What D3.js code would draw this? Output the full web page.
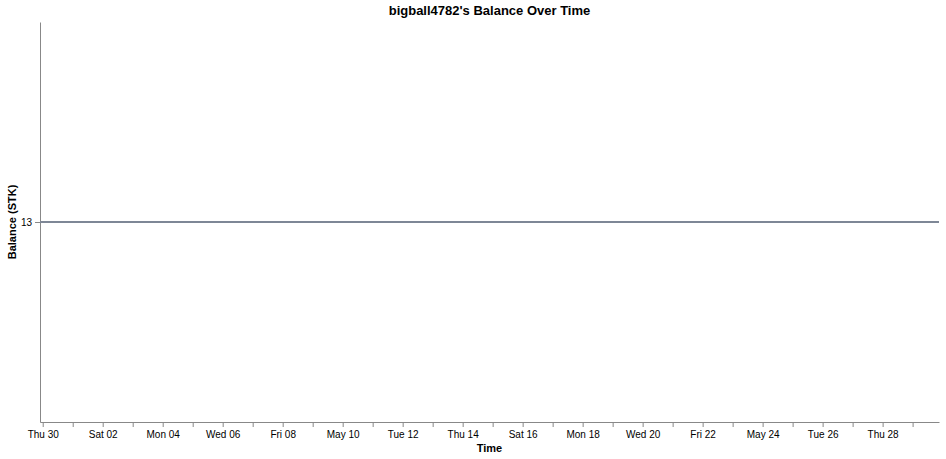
<!DOCTYPE html>
<html>
<head>
<meta charset="utf-8">
<script src="https://cdn.jsdelivr.net/npm/d3@7"></script>
<style>
  body { margin: 0; background: #fff; font-family: "Liberation Sans", Arial, sans-serif; }
  .axis path, .axis line { stroke: #888; }
  .axis text { fill: #000; font-size: 10px; font-family: "Liberation Sans", Arial, sans-serif; }
</style>
</head>
<body>
<script>
//-----------------Data----------------

const times = ["2020-04-29T21:50:00", "2020-05-29T21:07:00"];
const balances = [13, 13];
const yTicks = [13];
const yDomain = [12, 14];

//-----------------Chart----------------

const width = 946;
const height = 459;
const margin = { top: 22, right: 7, bottom: 37, left: 40 };

const parse = d3.timeParse("%Y-%m-%dT%H:%M:%S");
const data = times.map((t, i) => ({ date: parse(t), value: balances[i] }));

const svg = d3.select("body").append("svg").attr("width", width).attr("height", height);

const x = d3
  .scaleTime()
  .domain(d3.extent(data, (d) => d.date))
  .range([margin.left, width - margin.right]);

const y = d3.scaleLinear().domain(yDomain).range([height - margin.bottom, margin.top]);

// day ticks, label every other day starting from the first full day
const dayTicks = d3.timeDay.range(d3.timeDay.ceil(x.domain()[0]), x.domain()[1]);
const fmtTick = (d, i) => {
  if (i % 2 !== 0) return "";
  return d.getDay() === 0 ? d3.timeFormat("%b %d")(d) : d3.timeFormat("%a %d")(d);
};

svg
  .append("g")
  .attr("class", "axis")
  .attr("transform", `translate(0, ${height - margin.bottom})`)
  .call(d3.axisBottom(x).tickValues(dayTicks).tickFormat(fmtTick).tickSize(5).tickSizeOuter(0))
  .call((g) => g.selectAll("text").attr("dy", "0.75em"));

svg
  .append("g")
  .attr("class", "axis")
  .attr("transform", `translate(${margin.left}, 0)`)
  .call(d3.axisLeft(y).tickValues(yTicks).tickFormat(d3.format("d")).tickSize(5).tickSizeOuter(0));

//-----------------Line----------------

const line = d3
  .line()
  .x((d) => x(d.date))
  .y((d) => y(d.value));

svg
  .append("path")
  .datum(data)
  .attr("fill", "none")
  .attr("stroke", "#7e8796")
  .attr("stroke-width", 2)
  .attr("d", line);

//-----------------Titles----------------

svg
  .append("text")
  .text("bigball4782's Balance Over Time")
  .attr("x", (margin.left + width - margin.right) / 2)
  .attr("y", 15)
  .style("text-anchor", "middle")
  .style("font-size", "13px")
  .style("font-weight", "bold");

svg
  .append("text")
  .text("Time")
  .attr("x", (margin.left + width - margin.right) / 2)
  .attr("y", 452)
  .style("text-anchor", "middle")
  .style("font-size", "11px")
  .style("font-weight", "bold");

svg
  .append("text")
  .text("Balance (STK)")
  .attr("transform", `translate(16, ${(margin.top + height - margin.bottom) / 2}) rotate(-90)`)
  .style("text-anchor", "middle")
  .style("font-size", "11px")
  .style("font-weight", "bold");
</script>
</body>
</html>
